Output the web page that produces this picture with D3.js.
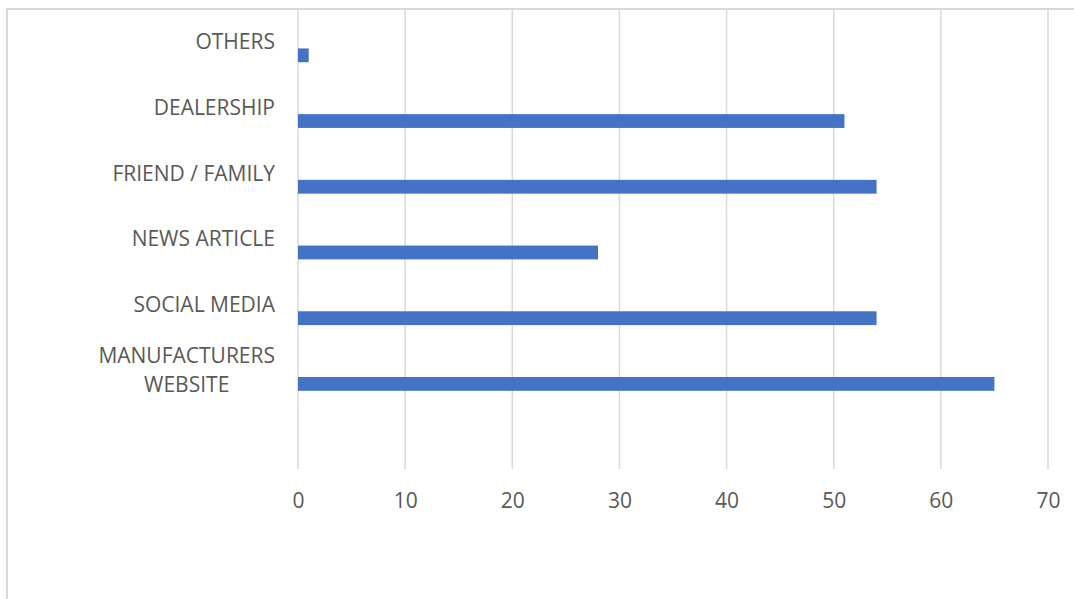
<!DOCTYPE html>
<html>
<head>
<meta charset="utf-8">
<script src="https://cdn.jsdelivr.net/npm/d3@7"></script>
<style>
  body { margin: 0; background: #fff; }
  text { font-family: "Open Sans", sans-serif; fill: #595959; }
</style>
</head>
<body>
<div id="box"></div>
<script>
// categories from bottom to top, the empty one is the blank slot under the last bar
var categories = ["", "MANUFACTURERS WEBSITE", "SOCIAL MEDIA", "NEWS ARTICLE", "FRIEND / FAMILY", "DEALERSHIP", "OTHERS"];
var values = [null, 65, 54, 28, 54, 51, 1];
var ticks = [0, 10, 20, 30, 40, 50, 60, 70];

var width = 1074, height = 599;
var plotLeft = 298, plotRight = 1048, plotTop = 9, plotBottom = 469;
var labelRight = 275;

var svg = d3.select("#box").append("svg")
    .attr("width", width)
    .attr("height", height);

// chart border (only left and top are in the picture)
svg.append("line").attr("x1", 7).attr("x2", width).attr("y1", 9).attr("y2", 9)
   .style("stroke", "#d9d9d9").style("stroke-width", 2);
svg.append("line").attr("x1", 7).attr("x2", 7).attr("y1", 8).attr("y2", height)
   .style("stroke", "#d9d9d9").style("stroke-width", 2);

var x = d3.scaleLinear().domain([0, 70]).range([plotLeft, plotRight]);
var y = d3.scaleBand().domain(categories.slice().reverse()).range([plotTop, plotBottom]);

//Gridlines
svg.selectAll(".grid").data(ticks).enter().append("line")
   .attr("x1", function(d){ return x(d); })
   .attr("x2", function(d){ return x(d); })
   .attr("y1", plotTop)
   .attr("y2", plotBottom)
   .style("stroke", "#d9d9d9")
   .style("stroke-width", 1.5);

//Bars, offset inside the band like the clustered original
var bw = y.bandwidth();
svg.selectAll(".bar").data(categories.filter(function(c, i){ return values[i] != null; }))
   .enter().append("rect")
   .attr("x", x(0))
   .attr("y", function(d){ return y(d) + bw * 0.6; })
   .attr("width", function(d){ return x(values[categories.indexOf(d)]) - x(0); })
   .attr("height", bw * 0.21)
   .style("fill", "#4472c4");

//X axis tick labels
var xAxis = d3.axisBottom(x).tickValues(ticks).tickSize(0).tickPadding(0);
var gx = svg.append("g").attr("transform", "translate(0," + 493 + ")").call(xAxis);
gx.select(".domain").remove();
gx.selectAll("text").style("font-size", "21px").style("fill", "#595959")
  .style("font-family", "'Open Sans', sans-serif");

//Category labels, long ones wrapped and centred as a block
svg.selectAll(".cat").data(categories.filter(function(c){ return c !== ""; }))
   .enter().append("text")
   .style("font-size", "21px")
   .each(function(d){
       var t = d3.select(this);
       var lines = d.length > 16 ? d.split(" ") : [d];
       var cy = y(d) + bw / 2;
       var lh = 29;
       var start = cy - (lines.length - 1) * lh / 2;
       var spans = lines.map(function(l, i){
           return t.append("tspan").attr("y", start + i * lh).attr("dy", "0.35em").text(l);
       });
       var maxW = d3.max(spans, function(s){ return s.node().getComputedTextLength(); });
       t.attr("text-anchor", "middle");
       spans.forEach(function(s){ s.attr("x", labelRight - maxW / 2); });
   });
</script>
</body>
</html>
